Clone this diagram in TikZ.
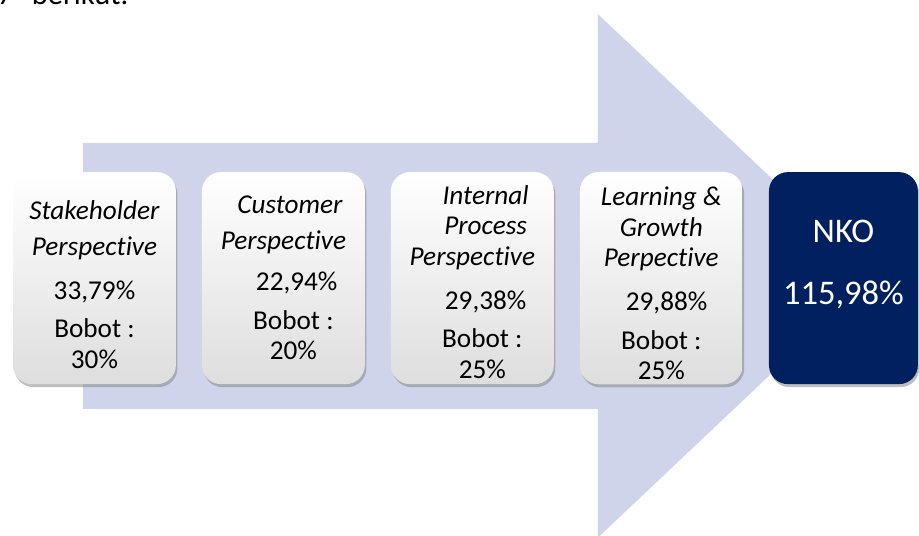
\documentclass[tikz,border=0pt]{standalone}
\usepackage{fontspec}
\setmainfont{Carlito}[Ligatures=NoCommon]
\usetikzlibrary{positioning,shadows}
\definecolor{arrowblue}{RGB}{207,212,234}
\definecolor{nkoblue}{RGB}{0,32,96}
\tikzstyle{persp} = [rectangle, rounded corners=0.5cm, minimum width=4.31cm, minimum height=5.61cm, align=center, top color=white, middle color=white, bottom color=black!13, drop shadow={shadow xshift=0.04cm, shadow yshift=-0.08cm, fill=black!50, opacity=0.5}, font=\fontsize{20.5}{23}\selectfont]
\tikzstyle{result} = [rectangle, rounded corners=0.5cm, minimum width=3.94cm, minimum height=5.61cm, align=center, fill=nkoblue, text=white, drop shadow={shadow xshift=0.04cm, shadow yshift=-0.08cm, fill=black!50, opacity=0.5}, font=\fontsize{26}{31}\selectfont]
\tikzstyle{bigarrow} = [fill=arrowblue]

\begin{document}
\begin{tikzpicture}[node distance=5cm]
\useasboundingbox (0,0) rectangle (24.32,-14.16);
\clip (0,0) rectangle (24.32,-14.16);

% the big arrow behind the boxes
\fill [bigarrow] (2.20,-3.78) -- (15.82,-3.78) -- (15.82,-0.37) -- (23.15,-7.30) -- (15.82,-14.23) -- (15.82,-10.82) -- (2.20,-10.82) -- cycle;

\node (intro) [anchor=base east, font=\fontsize{23}{28}\selectfont] at (3.52,-0.13) {7\hspace{0.5cm}berikut.};

\node (stake) [persp] at (2.50,-7.36) {\rule{0pt}{24pt}\textit{Stakeholder}\\[4pt]\textit{Perspective}\\[10pt]33,79\%\\[6pt]Bobot :\\30\%};
\node (cust) [persp, right of=stake] {\hspace*{10pt}\textit{Customer}\\[4pt]\textit{Perspective}\\[8pt]\hspace*{20pt}22,94\%\\[6pt]\hspace*{15pt}Bobot :\\\hspace*{15pt}20\%};
\node (intern) [persp, right of=cust] {\rule{0pt}{20pt}\hspace*{20pt}\textit{Internal}\\\hspace*{20pt}\textit{Process}\\\textit{Perspective}\\[10pt]\hspace*{20pt}29,38\%\\[6pt]\hspace*{15pt}Bobot :\\\hspace*{15pt}25\%};
\node (learn) [persp, right of=intern] {\rule{0pt}{22pt}\textit{Learning \&}\\\textit{Growth}\\\textit{Perpective}\\[10pt]\hspace*{8pt}29,88\%\\[6pt]Bobot :\\25\%};
%
\node (nko) [result, right of=learn, xshift=-0.18cm] {NKO\\[16pt]115,98\%\\[-7pt]\mbox{}};

\end{tikzpicture}
\end{document}
